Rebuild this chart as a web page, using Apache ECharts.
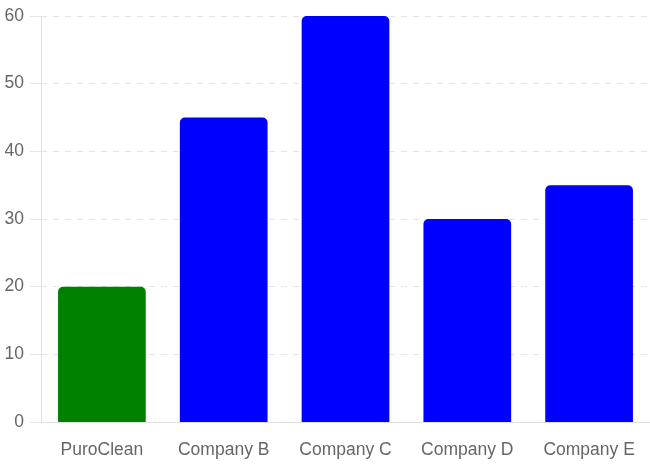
<!DOCTYPE html>
<html><head><meta charset="utf-8">
<script src="https://cdn.jsdelivr.net/npm/echarts@6/dist/echarts.min.js"></script>
<style>html,body{margin:0;padding:0;background:#fff}#c{width:650px;height:465px}</style>
</head><body><div id="c"></div>
<script>
const categories = ["PuroClean", "Company B", "Company C", "Company D", "Company E"];
const values = [20, 45, 60, 30, 35];
const barColors = ["#008000", "#0000ff", "#0000ff", "#0000ff", "#0000ff"];
const yTicks = [0, 10, 20, 30, 40, 50, 60];

const chart = echarts.init(document.getElementById('c'), null, {renderer: 'canvas'});
chart.setOption({
  animation: false,
  grid: {left: 41, right: 0, top: 16, bottom: 43, containLabel: false},
  xAxis: {
    type: 'category', data: categories,
    axisLine: {show: true, lineStyle: {color: '#e0e0e0', width: 1}},
    axisTick: {show: false},
    axisLabel: {color: '#666', fontSize: 17.5, fontFamily: 'Liberation Sans, Arial, sans-serif', margin: 19}
  },
  yAxis: {
    type: 'value', min: yTicks[0], max: yTicks[yTicks.length - 1], interval: 10,
    axisLine: {show: true, lineStyle: {color: '#e0e0e0', width: 1}},
    axisTick: {show: true, length: 11, lineStyle: {color: '#e5e5e5'}},
    axisLabel: {color: '#666', fontSize: 17.5, fontFamily: 'Liberation Sans, Arial, sans-serif', margin: 17},
    splitLine: {show: true, lineStyle: {color: '#e5e5e5', type: [6, 6], width: 1}}
  },
  series: [{
    type: 'bar',
    data: values.map((v, i) => ({value: v, itemStyle: {color: barColors[i]}})),
    barWidth: '72%',
    itemStyle: {borderRadius: [5, 5, 0, 0]}
  }]
});
</script></body></html>
